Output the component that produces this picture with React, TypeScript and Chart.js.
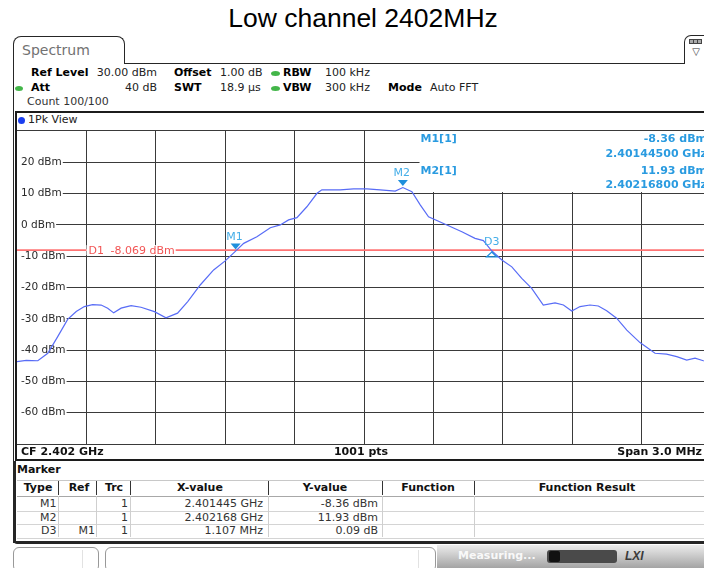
import React, { useEffect, useRef } from 'react';
import { Chart, registerables } from 'chart.js';
Chart.register(...registerables);

const UI = '"DejaVu Sans", Verdana, sans-serif';
const W = 704;
const H = 568;

// ---- trace data (frequency in MHz, level in dBm) ----
const traceFreqMHz = [
  2400.5, 2400.54, 2400.59, 2400.633, 2400.676, 2400.719, 2400.756, 2400.791, 2400.827, 2400.864,
  2400.892, 2400.918, 2400.95, 2400.993, 2401.036, 2401.094, 2401.144, 2401.194, 2401.238, 2401.292,
  2401.35, 2401.4, 2401.445, 2401.48, 2401.537, 2401.595, 2401.638, 2401.674, 2401.71, 2401.753,
  2401.797, 2401.818, 2401.897, 2401.955, 2402.013, 2402.07, 2402.135, 2402.168, 2402.207, 2402.243,
  2402.279, 2402.351, 2402.423, 2402.48, 2402.516, 2402.552, 2402.596, 2402.639, 2402.682, 2402.725,
  2402.775, 2402.826, 2402.862, 2402.898, 2402.934, 2402.977, 2403.013, 2403.049, 2403.092, 2403.136,
  2403.193, 2403.258, 2403.308, 2403.352, 2403.395, 2403.431, 2403.467, 2403.5,
];
const traceLevelDbm = [
  -43.7, -43.3, -43.4, -41.0, -35.7, -30.2, -27.7, -26.1, -25.5, -25.6,
  -26.6, -28.1, -26.6, -25.8, -26.3, -27.7, -29.7, -28.2, -24.5, -19.2,
  -14.4, -11.5, -8.36, -5.9, -3.8, -0.9, 0.0, 1.6, 2.3, 5.8,
  10.1, 11.2, 11.2, 11.5, 11.5, 11.2, 10.8, 11.93, 10.6, 6.4,
  2.6, 0.2, -2.2, -4.3, -5.0, -8.27, -11.2, -13.4, -17.1, -20.3,
  -25.6, -24.9, -25.6, -27.5, -26.1, -25.6, -25.9, -27.4, -29.8, -33.6,
  -37.6, -41.0, -41.3, -42.1, -43.2, -42.6, -43.4, -43.6,
];

// ---- axes ----
const xStartMHz = 2400.5;
const xStopMHz = 2403.5;
const xGridMHz = [2400.8, 2401.1, 2401.4, 2401.7, 2402.0, 2402.3, 2402.6, 2402.9, 2403.2];
const yMinDbm = -70;
const yMaxDbm = 30;
const yGridDbm = [20, 10, 0, -10, -20, -30, -40, -50, -60];

// ---- markers ----
const markerNames = ['M1', 'M2', 'D3'];
const markerFreqMHz = [2401.445, 2402.168, 2402.552];
const markerLevelDbm = [-8.36, 11.93, -8.27];
const markerDown = [true, true, false];
const d1LevelDbm = -8.069;
const d1Label = 'D1';
const d1Value = '-8.069 dBm';

// ---- marker info box ----
const infoNames = ['M1[1]', 'M2[1]'];
const infoLevels = ['-8.36 dBm', '11.93 dBm'];
const infoFreqs = ['2.40144500 GHz', '2.40216800 GHz'];
const infoBoxFromMHz = 2402.24;
const infoBoxDownToDbm = 10.5;

// ---- marker table ----
const tblHead = ['Type', 'Ref', 'Trc', 'X-value', 'Y-value', 'Function', 'Function Result'];
const tblType = ['M1', 'M2', 'D3'];
const tblRef = ['', '', 'M1'];
const tblTrc = ['1', '1', '1'];
const tblX = ['2.401445 GHz', '2.402168 GHz', '1.107 MHz'];
const tblY = ['-8.36 dBm', '11.93 dBm', '0.09 dB'];

type TP = {
  x: number; y: number; t: string; b?: boolean; c?: string; s?: number;
  a?: 'l' | 'r' | 'c'; f?: string; st?: React.CSSProperties;
};
function T({ x, y, t, b, c = '#222', s = 11, a = 'l', f = UI, st }: TP) {
  const h = Math.round(s * 1.6);
  const style: React.CSSProperties = {
    position: 'absolute', top: y - h / 2, height: h, lineHeight: h + 'px',
    fontFamily: f, fontSize: s, fontWeight: b ? 700 : 400, color: c, whiteSpace: 'pre', ...st,
  };
  if (a === 'l') style.left = x;
  else if (a === 'r') style.right = W - x;
  else { style.left = x; style.transform = 'translateX(-50%)'; }
  return <div style={style}>{t}</div>;
}
function R({ x, y, w, h, st }: { x: number; y: number; w: number; h: number; st?: React.CSSProperties }) {
  return <div style={{ position: 'absolute', left: x, top: y, width: w, height: h, boxSizing: 'border-box', ...st }} />;
}

const zeroPad = (s: any) => {
  s.paddingTop = 0;
  s.paddingBottom = 0;
  s.paddingLeft = 0;
  s.paddingRight = 0;
};

const overlayPlugin = {
  id: 'rsOverlay',
  beforeDatasetsDraw(chart: any) {
    const { ctx, chartArea: a, scales } = chart;
    const xs = scales.x;
    const ys = scales.y;
    ctx.save();
    const bl = xs.getPixelForValue(infoBoxFromMHz);
    const bb = ys.getPixelForValue(infoBoxDownToDbm);
    ctx.fillStyle = '#ffffff';
    ctx.fillRect(bl, a.top, a.right - bl, bb - a.top);
    const dy = ys.getPixelForValue(d1LevelDbm);
    ctx.strokeStyle = '#ff7474';
    ctx.lineWidth = 1.6;
    ctx.beginPath();
    ctx.moveTo(a.left, dy);
    ctx.lineTo(a.right, dy);
    ctx.stroke();
    ctx.font = `11px ${UI}`;
    ctx.textBaseline = 'middle';
    const lx = 71.5;
    const w1 = ctx.measureText(d1Label).width;
    const w2 = ctx.measureText(d1Value).width;
    const gap = 6.5;
    ctx.fillStyle = '#ffffff';
    ctx.fillRect(lx - 2, dy - 5, w1 + gap + w2 + 3, 10);
    ctx.fillStyle = '#f25555';
    ctx.fillText(d1Label, lx, dy + 0.5);
    ctx.fillText(d1Value, lx + w1 + gap, dy + 0.5);
    ctx.font = `bold 11px ${UI}`;
    ctx.fillStyle = '#2a9be0';
    const rows = [8.2, 23.2, 39.8, 53.8];
    infoNames.forEach((n, i) => {
      ctx.textAlign = 'left';
      ctx.fillText(n, bl + 1, a.top + rows[i * 2]);
      ctx.textAlign = 'right';
      ctx.fillText(infoLevels[i], a.right - 4, a.top + rows[i * 2]);
      ctx.fillText(infoFreqs[i], a.right - 4, a.top + rows[i * 2 + 1]);
    });
    ctx.restore();
  },
  afterDatasetsDraw(chart: any) {
    const { ctx, scales } = chart;
    const xs = scales.x;
    const ys = scales.y;
    ctx.save();
    ctx.font = `11px ${UI}`;
    ctx.textAlign = 'center';
    ctx.textBaseline = 'middle';
    markerNames.forEach((n, i) => {
      const px = xs.getPixelForValue(markerFreqMHz[i]);
      const py = ys.getPixelForValue(markerLevelDbm[i]);
      ctx.beginPath();
      if (markerDown[i]) {
        ctx.moveTo(px - 5, py - 7.5);
        ctx.lineTo(px + 5, py - 7.5);
        ctx.lineTo(px, py - 1.5);
        ctx.closePath();
        ctx.fillStyle = '#1f8fdc';
        ctx.fill();
        ctx.fillStyle = '#45aee8';
        ctx.fillText(n, px - 1, py - 14.3);
      } else {
        ctx.moveTo(px, py + 1.3);
        ctx.lineTo(px + 5, py + 6);
        ctx.lineTo(px - 5, py + 6);
        ctx.closePath();
        ctx.strokeStyle = '#1f8fdc';
        ctx.lineWidth = 1.3;
        ctx.stroke();
        ctx.fillStyle = '#45aee8';
        ctx.fillText(n, px, py - 8.3);
      }
    });
    ctx.restore();
  },
};

export default function App() {
  const ref = useRef<HTMLCanvasElement>(null);
  useEffect(() => {
    const chart = new Chart(ref.current as HTMLCanvasElement, {
      type: 'line',
      data: {
        datasets: [
          {
            data: traceFreqMHz.map((f, i) => ({ x: f, y: traceLevelDbm[i] })),
            borderColor: 'rgb(88,108,246)',
            borderWidth: 1.2,
            pointRadius: 0,
            tension: 0,
            fill: false,
          },
        ],
      },
      options: {
        animation: false,
        responsive: false,
        maintainAspectRatio: false,
        events: [],
        layout: { padding: 0, autoPadding: false },
        plugins: { legend: { display: false }, tooltip: { enabled: false } },
        scales: {
          x: {
            type: 'linear',
            min: xStartMHz,
            max: xStopMHz,
            ticks: { display: false },
            grid: { color: '#3a3a3a', lineWidth: 1, drawTicks: false },
            border: { display: false },
            afterBuildTicks: (s: any) => { s.ticks = xGridMHz.map((v) => ({ value: v })); },
            afterFit: (s: any) => { s.height = 0; zeroPad(s); },
          },
          y: {
            type: 'linear',
            min: yMinDbm,
            max: yMaxDbm,
            ticks: {
              mirror: true,
              padding: 4,
              color: '#2a2a2a',
              font: { family: UI, size: 10.5 },
              callback: (v: any) => `${v} dBm`,
              showLabelBackdrop: true,
              backdropColor: '#ffffff',
              backdropPadding: { left: 4, right: 1, top: 0, bottom: 0 },
            },
            grid: { color: '#3a3a3a', lineWidth: 1, drawTicks: false },
            border: { display: false },
            afterBuildTicks: (s: any) => { s.ticks = yGridDbm.map((v) => ({ value: v })); },
            afterFit: (s: any) => { s.width = 0; zeroPad(s); },
          },
        },
      } as any,
      plugins: [overlayPlugin],
    });
    return () => chart.destroy();
  }, []);

  const colSep = [58, 96, 130, 268, 382, 474];
  const headX = [38, 79, 114, 200, 325, 428, 587];
  const rowY = [504, 517.5, 531];
  const rowLines = [495.5, 510.5, 524, 537.5];
  const dark = '#262626';

  return (
    <div style={{ position: 'absolute', left: 0, top: 0, width: W, height: H, overflow: 'hidden', background: '#fff' }}>
      <T x={363} y={18} t="Low channel 2402MHz" s={26.5} a="c" c="#000" f='"Liberation Sans", Arial, sans-serif' />

      {/* window tab + header frame */}
      <R x={13} y={36} w={112} h={28} st={{ border: `1.5px solid ${dark}`, borderBottom: 'none', borderRadius: '8px 8px 0 0' }} />
      <T x={22} y={50} t="Spectrum" s={14} c="#727272" />
      <R x={124} y={62.5} w={561} h={1.5} st={{ background: dark }} />
      <R x={684} y={35} w={26} h={29} st={{ border: `1.5px solid ${dark}`, borderBottom: 'none', borderRadius: '7px 7px 0 0' }} />
      <R x={689} y={39} w={13} h={5} st={{ border: '1px solid #444', background: '#aaa' }} />
      <R x={693} y={39} w={1} h={5} st={{ background: '#444' }} />
      <R x={697} y={39} w={1} h={5} st={{ background: '#444' }} />
      <T x={696} y={52} t="▽" s={10} a="c" c="#333" f='"DejaVu Sans", sans-serif' />
      <R x={12.5} y={63} w={1.5} h={480} st={{ background: dark }} />

      {/* header settings */}
      <T x={31} y={72.5} t="Ref Level" b c="#000" />
      <T x={157} y={72.5} t="30.00 dBm" a="r" />
      <T x={174} y={72.5} t="Offset" b c="#000" />
      <T x={220} y={72.5} t="1.00 dB" />
      <R x={271} y={71} w={9} h={5} st={{ borderRadius: '50%', background: '#43b649' }} />
      <T x={283} y={72.5} t="RBW" b c="#000" />
      <T x={325} y={72.5} t="100 kHz" />
      <R x={15} y={86} w={8} h={5} st={{ borderRadius: '50%', background: '#43b649' }} />
      <T x={31} y={88} t="Att" b c="#000" />
      <T x={157} y={88} t="40 dB" a="r" />
      <T x={174} y={88} t="SWT" b c="#000" />
      <T x={220} y={88} t="18.9 µs" />
      <R x={271} y={86} w={9} h={5} st={{ borderRadius: '50%', background: '#43b649' }} />
      <T x={283} y={88} t="VBW" b c="#000" />
      <T x={325} y={88} t="300 kHz" />
      <T x={388} y={88} t="Mode" b c="#000" />
      <T x={430} y={88} t="Auto FFT" />
      <T x={27} y={102} t="Count 100/100" c="#333" />

      {/* plot frame */}
      <R x={15} y={111} w={705} h={350} st={{ border: '2px solid #1c1c1c' }} />
      <R x={18} y={116.5} w={7} h={7} st={{ borderRadius: '50%', background: '#1b3ff0' }} />
      <T x={28} y={120} t="1Pk View" c="#222" />
      <R x={17} y={130} w={700} h={1} st={{ background: '#3a3a3a' }} />
      <R x={17} y={444} w={700} h={1} st={{ background: '#3a3a3a' }} />
      <div style={{ position: 'absolute', left: 17, top: 131 }}>
        <canvas ref={ref} width={694} height={313} style={{ display: 'block' }} />
      </div>
      <T x={21} y={452} t="CF 2.402 GHz" b c="#111" />
      <T x={361} y={452} t="1001 pts" b a="c" c="#111" />
      <T x={702} y={452} t="Span 3.0 MHz" b a="r" c="#111" />

      {/* marker panel */}
      <R x={14} y={461} w={2} h={82} st={{ background: dark }} />
      <R x={14} y={541} w={700} h={3} st={{ background: dark, borderBottomLeftRadius: 3 }} />
      <T x={17} y={470} t="Marker" b c="#111" />
      <R x={17} y={479.5} w={700} h={1} st={{ background: '#c8c8c8' }} />
      {rowLines.map((ly, i) => (
        <R key={'rl' + i} x={17} y={ly} w={700} h={1} st={{ background: i === 0 ? '#a8a8a8' : '#d4d4d4' }} />
      ))}
      {colSep.map((cx, i) => (
        <React.Fragment key={'cs' + i}>
          <R x={cx} y={481} w={1} h={14} st={{ background: '#333' }} />
          <R x={cx} y={496} w={1} h={41} st={{ background: '#cfcfcf' }} />
        </React.Fragment>
      ))}
      {tblHead.map((h, i) => (
        <T key={'th' + i} x={headX[i]} y={488} t={h} b a="c" c="#111" />
      ))}
      {tblType.map((v, i) => (
        <React.Fragment key={'tr' + i}>
          <T x={56.5} y={rowY[i]} t={v} a="r" c="#333" />
          <T x={95} y={rowY[i]} t={tblRef[i]} a="r" c="#333" />
          <T x={128} y={rowY[i]} t={tblTrc[i]} a="r" c="#333" />
          <T x={263} y={rowY[i]} t={tblX[i]} a="r" c="#333" />
          <T x={378} y={rowY[i]} t={tblY[i]} a="r" c="#333" />
        </React.Fragment>
      ))}

      {/* status bar */}
      <R x={13} y={547} w={86} h={25} st={{ border: '1px solid #999', borderRadius: 6, background: '#fff' }} />
      <R x={82} y={550} w={1} h={18} st={{ background: '#e2e2e2' }} />
      <R x={105} y={547} w={331} h={25} st={{ border: '1px solid #999', borderRadius: 6, background: '#fff' }} />
      <R x={418} y={550} w={1} h={18} st={{ background: '#e2e2e2' }} />
      <R x={437} y={545} w={267} h={23} st={{ background: 'linear-gradient(#ececec, #a4a4a4)' }} />
      <T x={458} y={556} t="Measuring..." b c="rgba(255,255,255,0.9)" />
      <R x={547} y={550} w={70} h={13} st={{ background: '#4a4a4a', borderRadius: 3 }} />
      <R x={549} y={551} w={11} h={11} st={{ background: '#111', borderRadius: 2 }} />
      <T x={625} y={556} t="LXI" b c="#3a3a3a" s={12} f='"Liberation Sans", Arial, sans-serif' st={{ fontStyle: 'italic' }} />
    </div>
  );
}
